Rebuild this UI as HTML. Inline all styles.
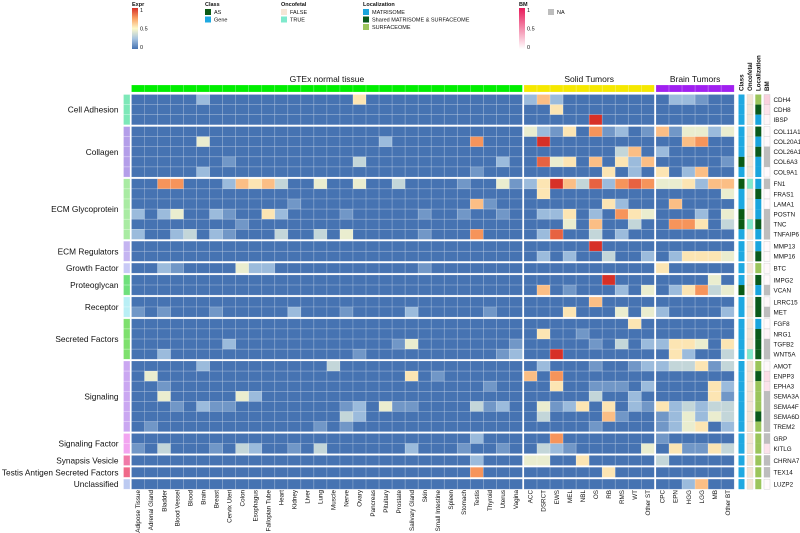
<!DOCTYPE html>
<html><head><meta charset="utf-8"><style>
html,body{margin:0;padding:0;background:#fff;}
svg{display:block;font-family:"Liberation Sans",Arial,sans-serif;}
</style></head><body>
<svg id="chart" width="800" height="533" viewBox="0 0 800 533" xmlns="http://www.w3.org/2000/svg"></svg>
<script>
// ---- data ----
const gtexTissues = ["Adipose Tissue","Adrenal Gland","Bladder","Blood Vessel","Blood","Brain","Breast","Cervix Uteri","Colon","Esophagus","Fallopian Tube","Heart","Kidney","Liver","Lung","Muscle","Nerve","Ovary","Pancreas","Pituitary","Prostate","Salivary Gland","Skin","Small Intestine","Spleen","Stomach","Testis","Thyroid","Uterus","Vagina"];
const solidTumors = ["ACC","DSRCT","EWS","MEL","NBL","OS","RB","RMS","WT","Other ST"];
const brainTumors = ["CPC","EPN","HGG","LGG","MB","Other BT"];
const groups = ["Cell Adhesion","Collagen","ECM Glycoprotein","ECM Regulators","Growth Factor","Proteoglycan","Receptor","Secreted Factors","Signaling","Signaling Factor","Synapsis Vesicle","Testis Antigen Secreted Factors","Unclassified"];
const groupSizes = [3,5,6,2,1,2,2,4,7,2,1,1,1];
const groupColors = ["#7de8b8","#b49ee9","#a9eba3","#c4b4f1","#c8c9f6","#6fe07c","#b9eff5","#7ee06e","#caa7f1","#f2a5f0","#f07aa8","#ef6a8a","#bccaf1"];
const genes = ["CDH4","CDH8","IBSP","COL11A1","COL20A1","COL26A1","COL6A3","COL9A1","FN1","FRAS1","LAMA1","POSTN","TNC","TNFAIP6","MMP13","MMP16","BTC","IMPG2","VCAN","LRRC15","MET","FGF8","NRG1","TGFB2","WNT5A","AMOT","ENPP3","EPHA3","SEMA3A","SEMA4F","SEMA6D","TREM2","GRP","KITLG","CHRNA7","TEX14","LUZP2"];
// expression digits 0-9 (value = d/9); gtex | solid | brain
const exprGtex = [
"00000 20000 00000 00500 00000 00000","00000 00000 00000 00000 00000 00000","00000 00000 00000 00000 00000 00000",
"00000 00000 00000 00000 00000 00000","00000 40000 00000 00002 00000 07000","00000 00000 00000 00000 00000 00000",
"00000 00100 00000 00300 00000 00020","00000 20000 00000 00000 00000 01000",
"00770 00265 63004 00400 30000 10041","00000 00000 00000 00000 00000 00000","00000 00000 00100 00000 00000 06100",
"20240 02100 52000 01000 00100 10010","00000 00010 00000 00000 00000 00000","20023 02100 03003 04000 00100 07000",
"00000 00000 00000 00000 00000 00000","00000 00000 00000 00000 00000 00000",
"00210 00042 20000 00000 00100 00000",
"00000 00000 00000 00000 00000 00000","00000 00000 00000 00000 00000 00000",
"00000 00000 00000 00000 00000 00000","10100 01000 00200 01000 02000 00100",
"00000 00000 00000 00000 00000 00000","00000 00000 00000 00000 00000 00000","00000 00200 00000 00000 14000 00001","00200 00000 00000 00100 00000 00012",
"00000 20000 00000 30000 00000 00000","04000 00000 00000 00000 05010 00000","00100 00000 00000 00000 00000 00100","00400 00042 00000 00000 00000 00000","00010 21100 00000 01204 11000 03120","00000 00000 00000 03200 00000 00000","01000 00000 00001 01000 00000 00000",
"00000 00000 00000 00000 00000 02000","10300 01032 00103 00000 02000 10010",
"00000 00000 00000 00000 00000 02000","00000 00000 00000 00000 00000 07000","00000 00000 00000 00000 00000 00000"];
const exprSolid = [
"26200 00000","00500 00000","00000 90000",
"42150 71201","09000 00000","00000 00360","08450 60526","00000 05020",
"25963 82787","05000 00000","00000 05200","02250 20754","00040 60030","02800 30200",
"00000 90000","02020 03002",
"00000 00000",
"00000 09000","06010 00204",
"00000 60000","00050 00404",
"00000 00050","05001 00000","00000 10302","00900 00000",
"02000 10012","60700 00000","00500 11102","00000 30020","04125 05021","03000 06100","00000 10000",
"00700 00000","03210 00004",
"44005 00000","00000 05000","00000 00000"];
const exprBrain = [
"022100","000000","000000",
"614424","006700","200000","000001","502600",
"445266","000004","060000","000204","077503","000000",
"000000","025554",
"500000",
"000040","025734",
"000000","200002",
"000000","000000","255405","052003",
"233513","000000","000052","000051","523233","124243","124502",
"100000","051153",
"300000","000000","002600"];
// annotations: class G=Gene A=AS; oncofetal F/T; localization M/H(shared)/S; BM value or -1 (NA)
const geneClass = "GGGGGGAGAGGAAGGGGGAGGGGGGGGGGGGGGGGGG";
const geneOncofetal = "FFFFFFFFTFFFTFFFFFFFFFFFTFFFFFFFFFFFF";
const geneLocalization = "SHMHMHMMMHMMHMMHSHMHHMHHHSHSSSHSSSSSS";
const geneBM = [0.2,0.12,0.04,0.02,0.02,-1,-1,0.02,-1,0.02,0.02,-1,-1,-1,0.02,0.02,0.03,0.02,-1,0.03,-1,0.02,0.05,-1,-1,0.03,0.15,0.12,-1,-1,-1,-1,-1,0.12,-1,-1,0.02];

// ---- layout ----
const svg = document.getElementById('chart');
const NS = "http://www.w3.org/2000/svg";
function mk(tag, attrs, parent){const e=document.createElementNS(NS,tag);for(const k in attrs)e.setAttribute(k,attrs[k]);(parent||svg).appendChild(e);return e;}
const ROW_H = 10.1, GAP = 1.75, TOP = 94.5;
const CW = 13.03;
const sections = [{x0:131.5, cols:gtexTissues, data:exprGtex, color:"#00ee00", title:"GTEx normal tissue", name:"gtex"},
                  {x0:524, cols:solidTumors, data:exprSolid, color:"#f5e800", title:"Solid Tumors", name:"solid-tumors"},
                  {x0:656, cols:brainTumors, data:exprBrain, color:"#a020f0", title:"Brain Tumors", name:"brain-tumors"}];
function xScale(sec, i){ return sec.x0 + i*CW; }
const rowY = []; const groupOf = [];
(function(){ let y=TOP, r=0; groupSizes.forEach((n,g)=>{ for(let k=0;k<n;k++){ rowY[r]=y; groupOf[r]=g; y+=ROW_H; r++; } y+=GAP; }); })();
function yScale(r){ return rowY[r]; }
const stops=[[0,[70,115,178]],[0.25,[166,196,225]],[0.5,[253,249,202]],[0.75,[250,160,98]],[1,[215,48,39]]];
function color(v){ v=Math.max(0,Math.min(1,v)); for(let i=1;i<stops.length;i++){ if(v<=stops[i][0]){ const a=stops[i-1],b=stops[i]; const t=(v-a[0])/(b[0]-a[0]); const c=a[1].map((x,j)=>Math.round(x+(b[1][j]-x)*t)); return `rgb(${c[0]},${c[1]},${c[2]})`; } } return "rgb(215,48,39)"; }
function parse(s){ return s.replace(/ /g,'').split('').map(ch=>parseInt(ch,10)/9); }

// ---- legends ----
const defs = mk('defs',{});
const lg = mk('linearGradient',{id:'exprGrad',x1:0,y1:1,x2:0,y2:0},defs);
[0,0.25,0.5,0.75,1].forEach(o=>mk('stop',{offset:o,'stop-color':color(o)},lg));
const bg = mk('linearGradient',{id:'bmGrad',x1:0,y1:1,x2:0,y2:0},defs);
mk('stop',{offset:0,'stop-color':'#ffffff'},bg); mk('stop',{offset:1,'stop-color':'#e8195a'},bg);
function t(x,y,str,size,weight,name,anchor){ const e=mk('text',{x:x,y:y,'font-size':size,'font-weight':weight||'normal','text-anchor':anchor||'start',fill:'#111'}); e.textContent=str;   return e; }
t(132,6,"Expr",5.5,"bold","expr-legend-title");
const eb=mk('rect',{x:132,y:8,width:6,height:41,fill:'url(#exprGrad)'});  
t(140,12,"1",5.5,"normal","expr-tick-1"); t(140,30.5,"0.5",5.5,"normal","expr-tick-05"); t(140,49,"0",5.5,"normal","expr-tick-0");
t(205,6,"Class",5.5,"bold","class-legend-title");
function sw(x,y,c,label,name){ const r=mk('rect',{x:x,y:y,width:6,height:6,fill:c});   t(x+9,y+5,label,5.5,"normal",name+'-label'); }
sw(205,9,"#0b5a14","AS","class-as"); sw(205,16.5,"#1fa9e1","Gene","class-gene");
t(281,6,"Oncofetal",5.5,"bold","oncofetal-legend-title");
sw(281,9,"#f5e5d6","FALSE","oncofetal-false"); sw(281,16.5,"#7fe9cc","TRUE","oncofetal-true");
t(363,6,"Localization",5.5,"bold","localization-legend-title");
sw(363,9,"#1aa5dd","MATRISOME","loc-matrisome"); sw(363,16.5,"#0b5a1c","Shared MATRISOME & SURFACEOME","loc-shared"); sw(363,24,"#9bc55c","SURFACEOME","loc-surfaceome");
t(519,6,"BM",5.5,"bold","bm-legend-title");
const bb=mk('rect',{x:519,y:8,width:6,height:41,fill:'url(#bmGrad)'});  
t(527,12,"1",5.5,"normal","bm-tick-1"); t(527,30.5,"0.5",5.5,"normal","bm-tick-05"); t(527,49,"0",5.5,"normal","bm-tick-0");
sw(548,9,"#bdbdbd","NA","bm-na");

// ---- column headers ----
sections.forEach(sec=>{
  const w = sec.cols.length*CW;
  t(sec.x0+w/2, 82, sec.title, 8.5, "normal", sec.name+"-header", "middle");
  sec.cols.forEach((c,i)=>{
    const r=mk('rect',{x:xScale(sec,i),y:85,width:CW,height:7,fill:sec.color,stroke:'rgba(255,255,255,0.35)','stroke-width':0.5});
    
    
    const lx = xScale(sec,i)+CW/2+2.2;
    const lab = mk('text',{x:lx,y:490,'font-size':6.3,'text-anchor':'end',transform:`rotate(-90 ${lx} 490)`,fill:'#111'});
    lab.textContent=c;
    
    
  });
});
// annotation headers
[["Class",741],["Oncofetal",749.7],["Localization",758],["BM",766.7]].forEach(([s,x])=>{
  const e=mk('text',{x:x+2.3,y:91,'font-size':6.2,'font-weight':'bold',transform:`rotate(-90 ${x+2.3} 91)`,fill:'#111'});
  e.textContent=s;
  
  
});

// ---- group labels & bars ----
let rr=0;
groups.forEach((g,gi)=>{
  const y0=yScale(rr), h=groupSizes[gi]*ROW_H;
  for(let k=0;k<groupSizes[gi];k++){
    const b=mk('rect',{x:123.5,y:yScale(rr+k),width:6.5,height:ROW_H,fill:groupColors[gi],stroke:'rgba(255,255,255,0.5)','stroke-width':0.5});
    
    
  }
  t(118.5, y0+h/2+3, g, 8.3, "normal", "group-label", "end");
  rr+=groupSizes[gi];
});

// ---- heatmap cells ----
genes.forEach((gname,r)=>{
  const y=yScale(r);
  sections.forEach(sec=>{
    const vals=parse(sec.data[r]);
    vals.forEach((v,i)=>{
      const c=mk('rect',{x:xScale(sec,i),y:y,width:CW,height:ROW_H,fill:color(v),stroke:'rgba(255,255,255,0.28)','stroke-width':0.6});
      
      
    });
  });
  // annotations
  const cls=mk('rect',{x:738.5,y:y,width:6,height:ROW_H,fill:geneClass[r]==='A'?'#0b5a14':'#1fa9e1'});
  
  
  const onc=mk('rect',{x:747,y:y,width:6,height:ROW_H,fill:geneOncofetal[r]==='T'?'#7fe9cc':'#f5e5d6',stroke:'#ccc','stroke-width':0.3});
  
  
  const lc={M:'#1aa5dd',H:'#0b5a1c',S:'#9bc55c'}[geneLocalization[r]];
  const loc=mk('rect',{x:755.3,y:y,width:6,height:ROW_H,fill:lc});
  
  
  const bv=geneBM[r];
  let bc='#bdbdbd';
  if(bv>=0){ const a=[255,255,255], b=[232,25,90]; const m=a.map((x,j)=>Math.round(x+(b[j]-x)*bv)); bc=`rgb(${m[0]},${m[1]},${m[2]})`; }
  const bm=mk('rect',{x:764,y:y,width:6,height:ROW_H,fill:bc,stroke:'#bbb','stroke-width':0.3});
  
  
  t(773.5, y+ROW_H/2+2.3, gname, 6.3, "normal", "gene-label");
});
</script>
</body></html>
